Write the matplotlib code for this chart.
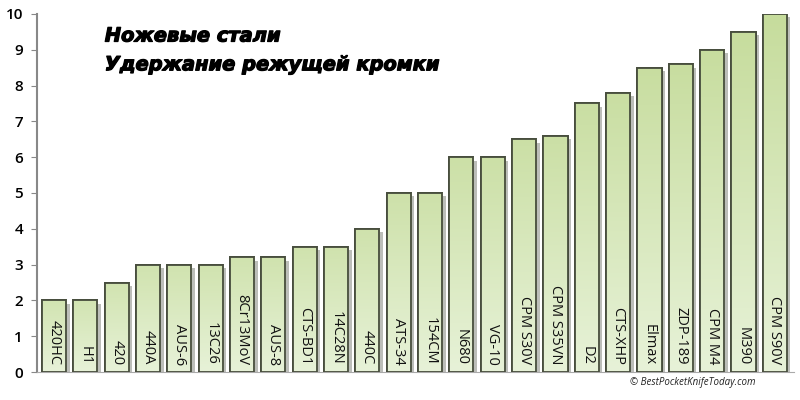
import matplotlib
matplotlib.use('Agg')
import matplotlib.pyplot as plt
import matplotlib.patheffects as pe
import numpy as np

steels = ['420HC', 'H1', '420', '440A', 'AUS-6', '13C26', '8Cr13MoV', 'AUS-8',
          'CTS-BD1', '14C28N', '440C', 'ATS-34', '154CM', 'N680', 'VG-10',
          'CPM S30V', 'CPM S35VN', 'D2', 'CTS-XHP', 'Elmax', 'ZDP-189',
          'CPM M4', 'M390', 'CPM S90V']
edge_retention = [2, 2, 2.5, 3, 3, 3, 3.2, 3.2, 3.5, 3.5, 4, 5, 5, 6, 6,
                  6.5, 6.6, 7.5, 7.8, 8.5, 8.6, 9, 9.5, 10]
yticks = list(range(0, 11))
title_lines = ['Ножевые стали', 'Удержание режущей кромки']

fig = plt.figure(figsize=(8, 4), dpi=100)
ax = fig.add_axes([0.046, 0.07, 0.946, 0.895])

x = np.arange(len(steels))
bars = ax.bar(x, edge_retention, width=0.77, color='#d6e8b8',
              edgecolor='#4b5242', linewidth=1.3, zorder=2,
              path_effects=[pe.SimplePatchShadow(offset=(2.5, -2.5), alpha=0.35),
                            pe.Normal()])

# vertical gradient inside each bar (darker green at top)
cmap = matplotlib.colors.LinearSegmentedColormap.from_list('g', ['#e7f2d8', '#c6dc9c'])
for b in bars:
    x0, w, h = b.get_x(), b.get_width(), b.get_height()
    top = 0.55 + 0.45 * h / 10
    grad = np.linspace(0, top, 256).reshape(-1, 1)
    im = ax.imshow(grad, extent=[x0, x0 + w, 0, h], origin='lower',
                   cmap=cmap, vmin=0, vmax=1, aspect='auto', zorder=2.5)
    im.set_clip_path(b)
    ax.bar(x0 + w / 2, h, width=w, facecolor='none', edgecolor='#464c3c',
           linewidth=1.3, zorder=3)

for xi, name in zip(x, steels):
    ax.text(xi, 0.2, name, rotation=-90, ha='center', va='bottom',
            fontsize=10.5, family='Open Sans', color='#111111', zorder=4)

ax.set_xlim(-0.55, 23.6)
ax.set_ylim(0, 10)
ax.set_yticks(yticks)
ax.set_xticks([])
ax.tick_params(axis='y', length=4, color='#888888', labelsize=11, pad=6)
for lab in ax.get_yticklabels():
    lab.set_family('Open Sans')
    lab.set_weight('semibold')
ax.spines['top'].set_visible(False)
ax.spines['right'].set_visible(False)
ax.spines['left'].set_color('#888888')
ax.spines['left'].set_linewidth(1.5)
ax.spines['bottom'].set_color('#aaaaaa')

heavy = [pe.withStroke(linewidth=0.9, foreground='black')]
fig.text(0.131, 0.91, title_lines[0], fontsize=14, weight='bold', style='italic',
         family='DejaVu Sans', va='center', path_effects=heavy)
fig.text(0.131, 0.838, title_lines[1], fontsize=14, weight='bold', style='italic',
         family='DejaVu Sans', va='center', path_effects=heavy)

fig.text(0.787, 0.043, '© BestPocketKnifeToday.com', fontsize=7, style='italic',
         family='Open Sans', color='#222222', va='center')

fig.savefig('out.png', dpi=100)
